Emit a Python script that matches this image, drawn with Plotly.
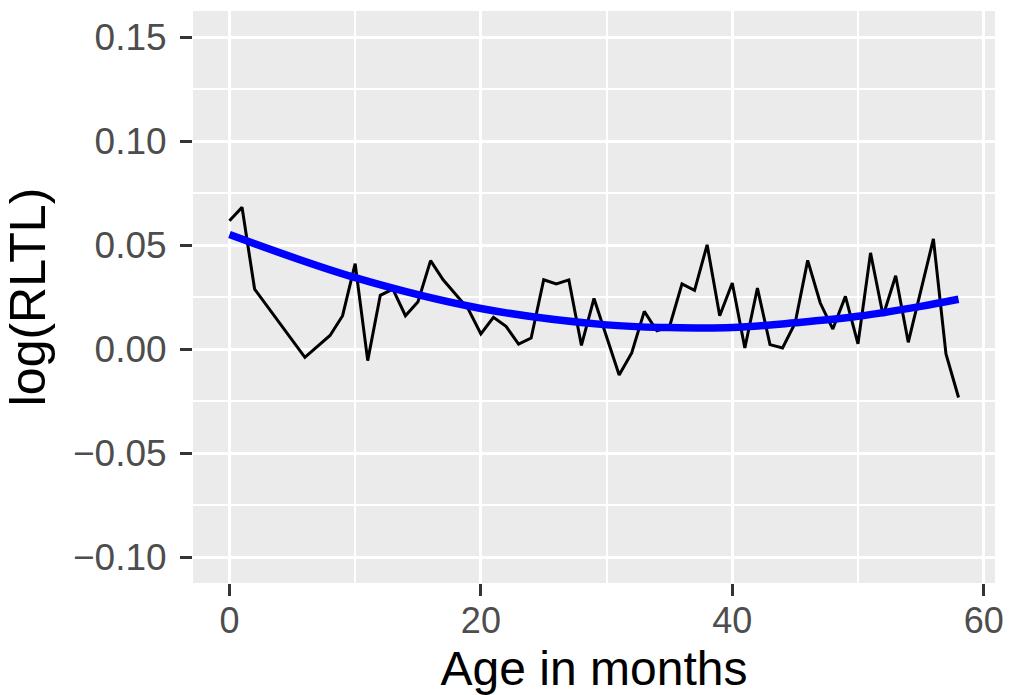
import plotly.graph_objects as go

# Mean log relative telomere length by age (months)
age_months = [0, 1, 2, 6, 8, 9, 10, 11, 12, 13, 14, 15, 16, 17, 19, 20, 21, 22,
              23, 24, 25, 26, 27, 28, 29, 31, 32, 33, 34, 35, 36, 37, 38, 39,
              40, 41, 42, 43, 44, 45, 46, 47, 48, 49, 50, 51, 52, 53, 54, 56,
              57, 58]
log_rltl = [0.0617, 0.0681, 0.0288, -0.0040, 0.0065, 0.0160, 0.0410, -0.0056,
            0.0258, 0.0288, 0.0160, 0.0227, 0.0425, 0.0333, 0.0192, 0.0072,
            0.0152, 0.0109, 0.0024, 0.0053, 0.0333, 0.0313, 0.0332, 0.0017,
            0.0243, -0.0125, -0.0019, 0.0181, 0.0088, 0.0106, 0.0313, 0.0282,
            0.0501, 0.0160, 0.0317, 0.0005, 0.0293, 0.0021, 0.0005, 0.0125,
            0.0426, 0.0221, 0.0096, 0.0253, 0.0025, 0.0462, 0.0160, 0.0352,
            0.0032, 0.0529, -0.0024, -0.0233]

# Quadratic trend curve
trend_age = [0, 10, 20, 30, 35, 40, 45, 50, 55, 58]
trend_val = [0.0550, 0.0343, 0.0195, 0.0116, 0.0103, 0.0103, 0.0126, 0.0157,
             0.0205, 0.0239]

x_ticks = [0, 20, 40, 60]
y_ticks = [-0.10, -0.05, 0.00, 0.05, 0.10, 0.15]

fig = go.Figure()
fig.add_trace(go.Scatter(x=age_months, y=log_rltl, mode="lines",
                         line=dict(color="black", width=3), showlegend=False))
fig.add_trace(go.Scatter(x=trend_age, y=trend_val, mode="lines",
                         line=dict(color="#0000FF", width=7.5, shape="spline"),
                         showlegend=False))

font_family = "Liberation Sans, Arial, sans-serif"
fig.update_layout(
    width=1010, height=695,
    margin=dict(l=193, r=15, t=11, b=112),
    paper_bgcolor="white",
    plot_bgcolor="#EBEBEB",
    font=dict(family=font_family),
    xaxis=dict(
        range=[-2.9, 60.9], tickvals=x_ticks, ticktext=[str(v) for v in x_ticks],
        automargin=False,
        showgrid=True, gridcolor="white", gridwidth=3,
        minor=dict(tickvals=[10, 30, 50], showgrid=True, gridcolor="white",
                   gridwidth=1.5),
        zeroline=False, showline=False,
        ticks="outside", ticklen=12, tickwidth=2.8, tickcolor="#333333",
        ticklabelstandoff=-6,
        tickfont=dict(size=36, color="#4D4D4D", family=font_family),
        title=dict(text="Age in months", standoff=16,
                   font=dict(size=48, color="black", family=font_family)),
    ),
    yaxis=dict(
        range=[-0.1125, 0.1625], tickvals=y_ticks,
        ticktext=["\u22120.10", "\u22120.05", "0.00", "0.05", "0.10", "0.15"],
        automargin=False,
        showgrid=True, gridcolor="white", gridwidth=3,
        minor=dict(tickvals=[-0.075, -0.025, 0.025, 0.075, 0.125],
                   showgrid=True, gridcolor="white", gridwidth=1.5),
        zeroline=False, showline=False,
        ticks="outside", ticklen=12, tickwidth=2.8, tickcolor="#333333",
        ticklabelstandoff=6,
        tickfont=dict(size=37, color="#4D4D4D", family=font_family),
        title=dict(text="log(RLTL)", standoff=12,
                   font=dict(size=50, color="black", family=font_family)),
    ),
)

fig.write_html("out.html")
